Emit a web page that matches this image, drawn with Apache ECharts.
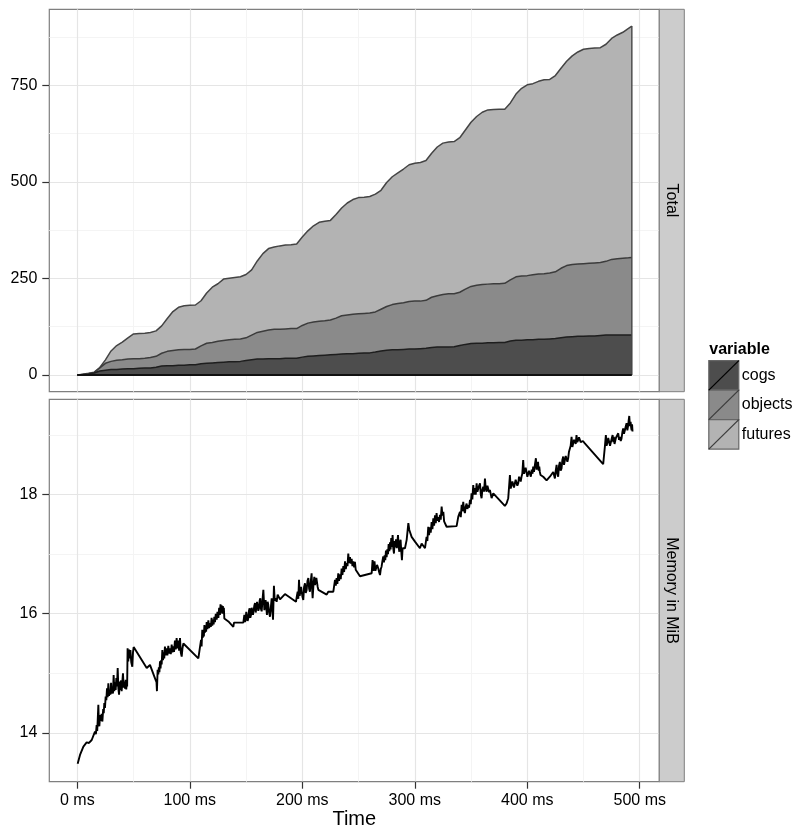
<!DOCTYPE html>
<html>
<head>
<meta charset="utf-8">
<script src="https://cdn.jsdelivr.net/npm/echarts@6/dist/echarts.min.js"></script>
<style>
  html, body { margin: 0; padding: 0; background: #ffffff; }
  #chart { width: 798px; height: 832px; }
</style>
</head>
<body>
<div id="chart"></div>
<script>
// Sample times (ms) for the stacked counts
const timeMs = [
  0, 5, 10, 15, 20, 25, 30, 35, 40, 45,
  50, 55, 60, 65, 70, 75, 80, 85, 90, 95,
  100, 105, 110, 115, 120, 125, 130, 135, 140, 145,
  150, 155, 160, 165, 170, 175, 180, 185, 190, 195,
  200, 205, 210, 215, 220, 225, 230, 235, 240, 245,
  250, 255, 260, 265, 270, 275, 280, 285, 290, 295,
  300, 305, 310, 315, 320, 325, 330, 335, 340, 345,
  350, 355, 360, 365, 370, 375, 380, 385, 390, 395,
  400, 405, 410, 415, 420, 425, 430, 435, 440, 445,
  450, 455, 460, 465, 470, 475, 480, 485, 490, 493
];

// Live counts per variable at each sample time
const cogs = [
  0, 1, 2, 5, 10, 12, 14, 14, 15, 16,
  16, 17, 18, 18, 20, 23, 24, 24, 25, 25,
  26, 26, 29, 30, 31, 32, 33, 34, 34, 35,
  37, 39, 41, 41, 42, 42, 42, 43, 43, 43,
  46, 48, 49, 50, 51, 52, 53, 54, 55, 55,
  56, 57, 57, 59, 62, 64, 65, 65, 66, 67,
  67, 68, 69, 71, 72, 72, 72, 73, 76, 79,
  81, 82, 82, 83, 83, 84, 84, 88, 90, 90,
  91, 91, 92, 92, 93, 94, 96, 98, 99, 100,
  100, 101, 101, 102, 103, 103, 103, 103, 103, 103
];
const objects = [
  0, 0, 1, 1, 8, 18, 21, 24, 24, 25,
  26, 25, 25, 27, 28, 33, 37, 39, 40, 41,
  40, 41, 46, 52, 53, 55, 56, 57, 58, 58,
  59, 64, 69, 72, 74, 76, 76, 76, 77, 77,
  82, 86, 88, 89, 89, 90, 94, 99, 100, 102,
  102, 102, 103, 104, 108, 113, 117, 120, 121, 123,
  124, 123, 124, 130, 133, 136, 138, 137, 138, 143,
  148, 150, 152, 152, 153, 152, 153, 158, 164, 166,
  166, 168, 169, 170, 171, 173, 180, 185, 187, 187,
  188, 188, 189, 189, 191, 196, 198, 199, 200, 201
];
const futures = [
  0, 1, 1, 1, 1, 9, 27, 38, 46, 55,
  64, 65, 65, 65, 66, 71, 85, 101, 110, 113,
  114, 114, 117, 130, 143, 149, 159, 159, 160, 161,
  164, 169, 185, 201, 211, 213, 216, 217, 217, 219,
  229, 239, 249, 256, 258, 258, 268, 279, 290, 297,
  301, 301, 302, 305, 308, 321, 331, 338, 346, 354,
  357, 359, 362, 373, 385, 392, 393, 394, 400, 412,
  425, 437, 446, 451, 451, 452, 451, 458, 473, 486,
  494, 495, 499, 502, 501, 508, 518, 529, 540, 549,
  555, 556, 556, 556, 562, 572, 579, 585, 594, 599
];

// Memory samples: [time (ms), resident memory (MiB)]
const memSamples = [
  [0.3,13.48],[2.4,13.63],[5.4,13.77],[8.3,13.84],[10.4,13.83],[12.8,13.88],[14.2,13.91],
  [15.7,14.02],[16.5,13.98],[17.2,14.13],[17.7,14.03],[18.1,14.20],[18.7,14.47],[19.2,14.15],[19.6,14.11],
  [20.3,14.30],[21.0,14.20],[21.6,14.32],[22.3,14.19],[23.0,14.40],[23.5,14.33],[24.0,14.50],[24.6,14.42],
  [25.2,14.61],[25.8,14.55],[26.4,14.75],[27.0,14.60],[27.6,14.83],[28.2,14.62],[28.8,14.72],[29.4,14.64],
  [30.0,14.84],[30.6,14.66],[31.2,14.76],[31.7,14.66],[32.3,14.97],[32.9,14.70],[33.5,14.85],[34.1,14.72],
  [34.7,14.92],[35.3,14.78],[35.9,15.09],[36.5,14.75],[37.1,14.64],[37.7,14.86],[38.3,14.72],[38.9,14.88],
  [39.4,14.70],[40.0,14.85],[40.6,15.00],[41.2,14.76],[41.8,14.86],[42.4,14.74],[43.0,14.89],[43.5,14.73],
  [43.9,14.82],[44.3,14.78],[44.7,15.42],[45.3,15.20],[46.0,15.40],[46.6,15.25],[47.2,15.39],[48.0,15.18],
  [48.9,15.11],[49.5,15.35],[50.1,15.44],
  [61.7,15.09],[64.6,15.14],[69.0,14.92],[70.4,14.85],[70.8,14.70],
  [71.4,15.06],[72.0,14.98],[72.5,15.10],[73.0,15.02],[73.5,15.20],[74.0,15.08],[74.5,15.22],[75.0,15.15],
  [75.6,15.39],[76.2,15.22],[76.8,15.35],[77.3,15.25],[77.9,15.45],[78.6,15.30],[79.4,15.42],[80.1,15.30],
  [80.9,15.46],[81.6,15.33],[82.4,15.42],[83.1,15.32],[83.9,15.48],[84.6,15.35],[85.3,15.45],[86.0,15.36],
  [86.8,15.55],[87.5,15.40],[88.3,15.59],[89.0,15.42],[89.8,15.55],[90.5,15.38],[91.3,15.59],[92.0,15.35],
  [92.8,15.28],[93.5,15.42],[94.3,15.50],
  [107.6,15.25],[109.1,15.23],
  [110.0,15.56],[110.5,15.45],[111.1,15.73],[111.6,15.60],[112.0,15.70],[112.5,15.62],[113.0,15.81],[113.5,15.68],
  [114.0,15.79],[114.5,15.70],[115.0,15.86],[115.7,15.74],[116.5,15.89],[117.2,15.76],[118.0,15.84],[118.7,15.78],
  [119.4,15.93],[120.0,15.80],[120.6,15.90],[121.2,15.82],[121.8,15.95],[122.4,15.86],[123.1,16.00],[123.9,15.90],
  [124.6,16.03],[125.4,15.93],[126.1,16.10],[126.8,15.98],[127.3,16.16],[127.7,16.02],[128.3,16.14],[128.9,16.00],
  [129.4,16.13],[129.8,16.04],[130.3,16.10],[130.7,15.92],
  [134.3,15.87],[138.7,15.78],[139.3,15.85],
  [147.6,15.85],[148.5,15.98],[149.1,15.86],[149.7,15.90],[150.2,16.03],[150.8,16.01],[151.4,15.88],[152.0,15.92],
  [152.6,16.05],[153.2,16.09],[153.8,15.93],[154.4,15.98],[155.0,16.10],[155.6,16.12],[156.2,15.98],[156.8,16.01],
  [157.4,16.14],[158.0,16.18],[158.6,16.02],[159.3,16.04],[159.8,16.20],[160.3,16.23],[160.9,16.05],[161.5,16.09],
  [162.1,16.22],[162.7,16.26],[163.3,16.08],[163.9,16.04],[164.6,16.22],[165.4,16.40],[166.3,16.06],[166.8,16.18],
  [167.4,16.23],[168.0,16.10],[168.6,15.98],[169.2,16.20],[169.8,16.15],[170.5,16.02],[171.3,15.95],[172.0,16.10],
  [172.8,16.26],[173.4,16.05],[174.0,15.90],[174.8,16.47],[175.5,16.22],[176.3,16.26],[177.2,16.20],[178.1,16.32],
  [180.2,16.24],[184.6,16.33],
  [194.4,16.20],[195.2,16.30],[195.9,16.37],[196.5,16.25],[197.1,16.57],[197.7,16.30],[198.3,16.32],[198.9,16.45],
  [199.4,16.43],[200.2,16.28],[200.9,16.23],[201.6,16.45],[202.4,16.51],[203.1,16.35],[203.9,16.40],[204.6,16.55],
  [205.4,16.60],[206.1,16.42],[206.8,16.37],[207.6,16.55],[208.3,16.68],[208.8,16.40],[209.2,16.26],[210.0,16.50],
  [210.7,16.62],[211.3,16.48],[211.9,16.51],[212.5,16.60],[213.1,16.57],[213.7,16.45],[214.3,16.40],
  [221.7,16.32],[223.1,16.37],[227.6,16.37],
  [229.1,16.57],[229.8,16.47],[230.5,16.60],[231.2,16.50],[232.0,16.68],[232.7,16.55],[233.5,16.66],[234.2,16.58],
  [235.0,16.76],[235.7,16.65],[236.5,16.80],[237.2,16.70],[238.0,16.88],[238.7,16.75],[239.4,16.85],[240.2,16.80],
  [240.9,17.01],[241.6,16.85],[242.4,16.95],[243.1,16.84],[243.9,16.92],[244.6,16.80],[245.4,16.88],[246.1,16.78],
  [246.8,16.87],[247.5,16.74],[248.3,16.76],
  [251.3,16.63],
  [261.7,16.68],[262.5,16.90],[263.1,16.72],[263.7,16.76],[264.2,16.88],[264.6,16.85],[265.0,16.72],[265.5,16.71],
  [266.5,16.82],[267.6,16.76],[268.3,16.70],[269.1,16.65],[269.8,16.75],[270.5,16.79],[271.2,16.88],
  [272.0,16.96],[272.6,16.86],[273.2,16.98],[273.8,16.90],[274.4,17.06],[275.0,16.95],[275.6,17.08],[276.2,17.00],
  [276.8,17.17],[277.4,17.05],[278.0,17.20],[278.5,17.08],[279.1,17.27],[279.7,17.12],[280.3,17.32],[280.9,17.10],
  [281.5,17.01],[282.1,17.22],[282.7,17.12],[283.3,17.25],[283.9,17.10],[284.5,17.20],[285.1,17.32],[285.7,17.12],
  [286.3,17.04],[286.8,17.20],[287.4,17.24],[288.0,17.05],[288.6,16.90],[289.2,17.10],[289.8,17.07],
  [291.3,17.10],[292.8,17.24],[294.3,17.52],[295.1,17.41],[297.2,17.29],[300.2,17.21],[304.6,17.10],[306.1,17.18],
  [309.1,17.10],
  [310.5,17.29],[311.2,17.22],[312.0,17.46],[312.7,17.32],[313.5,17.45],[314.2,17.36],[315.0,17.54],[315.7,17.42],
  [316.5,17.60],[317.2,17.48],[318.0,17.65],[318.7,17.52],[319.4,17.69],[320.1,17.56],[320.9,17.62],[321.6,17.54],
  [322.4,17.66],[323.1,17.58],[323.9,17.80],[324.6,17.65],[325.4,17.71],[326.1,17.55],[326.8,17.52],
  [328.3,17.46],[337.2,17.47],[338.7,17.63],
  [340.2,17.71],[340.9,17.62],[341.7,17.83],[342.4,17.72],[343.1,17.88],[343.8,17.74],[344.6,17.69],[345.3,17.80],
  [346.1,17.85],[346.8,17.76],[347.6,17.82],[348.3,17.78],[349.1,17.91],[349.8,17.84],[350.5,18.02],[351.2,17.92],
  [352.0,18.16],[352.7,18.00],[353.5,18.11],[354.2,18.00],[355.0,18.19],[355.7,18.05],[356.5,18.02],[357.2,18.15],
  [358.0,18.19],[358.7,18.00],[359.4,17.94],[360.1,18.08],[360.9,18.13],[361.6,18.05],[362.4,18.27],[363.1,18.10],
  [363.9,18.05],[364.6,18.15],[365.4,18.16],[366.1,18.04],[366.8,18.08],
  [368.3,17.94],[369.8,18.02],[380.1,17.81],[381.6,17.85],[383.1,17.94],
  [384.6,18.33],[385.3,18.10],[386.1,18.08],[386.8,18.22],[387.5,18.24],[388.2,18.12],[389.0,18.11],[389.7,18.25],
  [390.5,18.27],[391.2,18.15],[392.0,18.19],[392.7,18.30],[393.5,18.33],[394.2,18.22],[394.9,18.30],[395.6,18.35],
  [396.4,18.58],[397.1,18.35],[397.9,18.33],[398.6,18.45],[399.4,18.47],[400.1,18.30],[400.9,18.27],[401.6,18.40],
  [402.4,18.38],[403.2,18.30],[404.0,18.42],[404.7,18.35],[405.3,18.47],[406.0,18.38],[406.8,18.50],[407.7,18.61],
  [408.3,18.42],[408.9,18.44],[409.6,18.55],[410.2,18.40],[410.7,18.47],[411.2,18.38],[411.8,18.33],
  [414.2,18.30],[417.2,18.24],[420.1,18.30],[423.1,18.38],
  [424.6,18.27],[425.3,18.40],[426.1,18.50],[426.8,18.35],[427.5,18.30],[428.2,18.48],[429.0,18.55],[429.7,18.40],
  [430.5,18.44],[431.2,18.58],[432.0,18.64],[432.7,18.50],[433.5,18.52],[434.2,18.65],[435.0,18.66],[435.7,18.55],
  [436.4,18.61],[437.1,18.72],[437.9,18.75],[438.6,18.82],[439.4,18.97],[440.1,18.80],[440.9,18.78],[441.6,18.92],
  [442.4,18.94],[443.1,18.85],[443.8,19.00],[444.5,18.88],[445.3,18.92],[446.0,18.96],[446.8,18.97],[447.5,18.88],
  [448.3,18.86],[449.5,18.90],[451.2,18.86],
  [467.5,18.51],
  [469.0,18.80],[469.9,19.00],[470.5,18.82],[471.1,18.86],[472.0,18.95],[472.9,18.94],[473.6,18.82],[474.4,18.83],
  [475.2,18.95],[475.9,19.00],[476.5,18.88],[477.0,18.97],[477.6,18.85],[478.2,18.83],[478.8,18.95],[479.4,18.92],
  [480.2,18.98],[480.9,19.03],[481.6,18.92],[482.4,18.97],[483.1,18.90],[483.8,18.94],[484.6,19.05],[485.3,19.11],
  [486.0,19.02],[486.8,19.08],[487.5,19.14],[488.3,19.20],[489.0,19.08],[489.8,19.17],[490.2,19.25],[490.7,19.32],
  [491.3,19.15],[491.9,19.22],[492.4,19.12],[492.8,19.08],[493.2,19.18],[493.6,19.06]
];

// Axis breaks and labels
const xTicks = [0, 100, 200, 300, 400, 500];
const xMinor = [50, 150, 250, 350, 450];
const totalTicks = [0, 250, 500, 750];
const totalMinor = [125, 375, 625, 875];
const memTicks = [14, 16, 18];
const memMinor = [15, 17, 19];
const variableNames = ['cogs', 'objects', 'futures'];
const panelNames = ['Total', 'Memory in MiB'];
const legendTitle = 'variable';
const xTitle = 'Time';

const FONT = '"Liberation Sans", Arial, Helvetica, sans-serif';
const fills = ['#4d4d4d', '#8a8a8a', '#b3b3b3'];
const outlines = ['#1e1e1e', '#3c3c3c', '#444444'];
const GRID_MAJOR = '#e5e5e5';
const GRID_MINOR = '#f4f4f4';

// Panel geometry (pixels)
const PANEL_LEFT = 49.3;
const PANEL_W = 610;
const PANEL_H = 382.4;
const PANEL_TOPS = [9.3, 399.3];
const STRIP_W = 25;

const chart = echarts.init(document.getElementById('chart'), null, { renderer: 'canvas' });

function gridLines(xs, xsMinor, ys, ysMinor) {
  const major = { color: GRID_MAJOR, width: 1.2, type: 'solid' };
  const minor = { color: GRID_MINOR, width: 1, type: 'solid' };
  return []
    .concat(xsMinor.map(v => ({ xAxis: v, lineStyle: minor })))
    .concat(ysMinor.map(v => ({ yAxis: v, lineStyle: minor })))
    .concat(xs.map(v => ({ xAxis: v, lineStyle: major })))
    .concat(ys.map(v => ({ yAxis: v, lineStyle: major })));
}

// Stack the three variables: each band is drawn from zero up to its cumulative top,
// the lower bands are painted over the upper ones.
const layers = [cogs, objects, futures];
const stackedTops = layers.map((_, k) =>
  timeMs.map((t, i) => {
    let s = 0;
    for (let j = 0; j <= k; j++) s += layers[j][i];
    return [t, s];
  })
);

const stackSeries = layers.map((vals, k) => ({
  name: variableNames[k],
  type: 'line',
  xAxisIndex: 0,
  yAxisIndex: 0,
  data: stackedTops[k],
  symbol: 'none',
  smooth: false,
  lineStyle: { color: outlines[k], width: 1.5 },
  areaStyle: { color: fills[k], opacity: 1, origin: 0 },
  z: 5 - k,
  silent: true
}));

const lastIdx = timeMs.length - 1;
const lastT = timeMs[lastIdx];
const lastTotal = stackedTops[2][lastIdx][1];

const axisLabelStyle = { fontSize: 16, color: '#000000', fontFamily: FONT };
const tickStyle = { show: true, inside: false, length: 7, lineStyle: { color: '#333333', width: 1.2 } };

const graphics = [];
panelNames.forEach((name, i) => {
  const top = PANEL_TOPS[i];
  graphics.push({
    type: 'rect',
    shape: { x: PANEL_LEFT + PANEL_W, y: top, width: STRIP_W, height: PANEL_H },
    style: { fill: '#cccccc', stroke: '#7f7f7f', lineWidth: 1 },
    z: 10
  });
  graphics.push({
    type: 'text',
    x: PANEL_LEFT + PANEL_W + STRIP_W / 2,
    y: top + PANEL_H / 2,
    rotation: -Math.PI / 2,
    style: {
      text: name, x: 0, y: 0,
      fontSize: 16, fontFamily: FONT, fill: '#000000',
      align: 'center', verticalAlign: 'middle',
      textAlign: 'center', textVerticalAlign: 'middle'
    },
    z: 11
  });
});

// Legend: title, keys with diagonal strokes, labels
const KEY_X = 708.8, KEY_Y = 360.6, KEY_W = 30, KEY_H = 29.5;
graphics.push({
  type: 'text', x: 709.3, y: 350,
  style: {
    text: legendTitle, fontSize: 16, fontWeight: 'bold', fontFamily: FONT, fill: '#000000',
    align: 'left', verticalAlign: 'middle', textAlign: 'left', textVerticalAlign: 'middle'
  },
  z: 11
});
variableNames.forEach((name, k) => {
  const y = KEY_Y + k * KEY_H;
  graphics.push({
    type: 'rect',
    shape: { x: KEY_X, y: y, width: KEY_W, height: KEY_H },
    style: { fill: fills[k], stroke: '#666666', lineWidth: 1.2 },
    z: 10
  });
  graphics.push({
    type: 'line',
    shape: { x1: KEY_X, y1: y + KEY_H, x2: KEY_X + KEY_W, y2: y },
    style: { stroke: k === 0 ? '#000000' : '#3c3c3c', lineWidth: 1.3 },
    z: 11
  });
  graphics.push({
    type: 'text', x: KEY_X + KEY_W + 3, y: y + KEY_H / 2,
    style: {
      text: name, fontSize: 16, fontFamily: FONT, fill: '#000000',
      align: 'left', verticalAlign: 'middle', textAlign: 'left', textVerticalAlign: 'middle'
    },
    z: 11
  });
});

const markLineBase = {
  silent: true, symbol: ['none', 'none'], label: { show: false }, animation: false,
  emphasis: { disabled: true }, z: 0
};

const option = {
  backgroundColor: '#ffffff',
  animation: false,
  textStyle: { fontFamily: FONT },
  grid: PANEL_TOPS.map(top => ({
    left: PANEL_LEFT, top: top, width: PANEL_W, height: PANEL_H,
    show: true, backgroundColor: '#ffffff', borderColor: '#7f7f7f', borderWidth: 1.2,
    containLabel: false
  })),
  xAxis: [
    {
      gridIndex: 0, type: 'value', min: -24.9, max: 517.4, position: 'bottom',
      axisLine: { show: false, onZero: false }, axisTick: { show: false },
      axisLabel: { show: false }, splitLine: { show: false }
    },
    {
      gridIndex: 1, type: 'value', min: -24.9, max: 517.4, position: 'bottom',
      axisLine: { show: false, onZero: false },
      axisTick: Object.assign({ customValues: xTicks }, tickStyle),
      axisLabel: Object.assign({
        customValues: xTicks, margin: 11,
        formatter: v => v + ' ms'
      }, axisLabelStyle),
      splitLine: { show: false },
      name: xTitle, nameLocation: 'middle', nameGap: 28,
      nameTextStyle: { fontSize: 20, color: '#000000', fontFamily: FONT }
    }
  ],
  yAxis: [
    {
      gridIndex: 0, type: 'value', min: -43.5, max: 946.5, position: 'left',
      axisLine: { show: false, onZero: false },
      axisTick: Object.assign({ customValues: totalTicks }, tickStyle),
      axisLabel: Object.assign({ customValues: totalTicks, margin: 12 }, axisLabelStyle),
      splitLine: { show: false }
    },
    {
      gridIndex: 1, type: 'value', min: 13.18, max: 19.6, position: 'left',
      axisLine: { show: false, onZero: false },
      axisTick: Object.assign({ customValues: memTicks }, tickStyle),
      axisLabel: Object.assign({ customValues: memTicks, margin: 12 }, axisLabelStyle),
      splitLine: { show: false }
    }
  ],
  series: [
    {
      name: 'grid-total', type: 'line', xAxisIndex: 0, yAxisIndex: 0, data: [],
      silent: true, z: 0,
      markLine: Object.assign({ data: gridLines(xTicks, xMinor, totalTicks, totalMinor) }, markLineBase)
    },
    {
      name: 'grid-memory', type: 'line', xAxisIndex: 1, yAxisIndex: 1, data: [],
      silent: true, z: 0,
      markLine: Object.assign({ data: gridLines(xTicks, xMinor, memTicks, memMinor) }, markLineBase)
    }
  ].concat(stackSeries).concat([
    {
      name: 'edge', type: 'line', xAxisIndex: 0, yAxisIndex: 0,
      data: [[lastT, 0], [lastT, lastTotal]],
      symbol: 'none', lineStyle: { color: '#454545', width: 1.4 }, z: 6, silent: true
    },
    {
      name: 'baseline', type: 'line', xAxisIndex: 0, yAxisIndex: 0,
      data: [[timeMs[0], 0], [lastT, 0]],
      symbol: 'none', lineStyle: { color: '#111111', width: 2 }, z: 6, silent: true
    },
    {
      name: 'memory', type: 'line', xAxisIndex: 1, yAxisIndex: 1,
      data: memSamples,
      symbol: 'none', lineStyle: { color: '#000000', width: 1.9 }, z: 5, silent: true
    }
  ]),
  graphic: graphics
};

chart.setOption(option);
</script>
</body>
</html>
